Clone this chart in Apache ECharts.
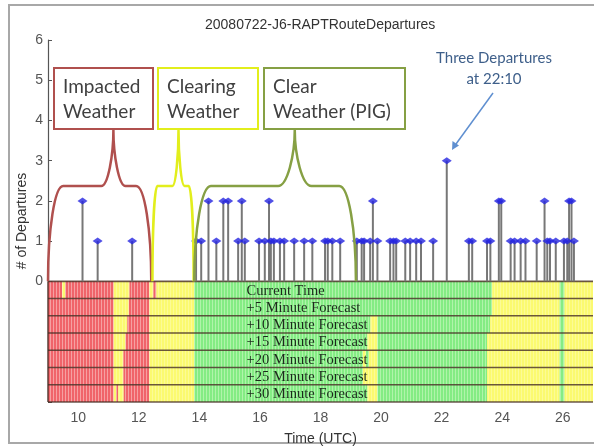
<!DOCTYPE html>
<html>
<head>
<meta charset="utf-8">
<script src="https://cdn.jsdelivr.net/npm/echarts@6/dist/echarts.min.js"></script>
<style>
html, body { margin: 0; padding: 0; background: #fff; }
#chart { width: 594px; height: 446px; }
</style>
</head>
<body>
<div id="chart"></div>
<script>
// departures, time in UTC hours
const depTimes = [10.14, 10.64, 11.78, 13.89, 14.06, 14.30, 14.56, 14.79, 14.95, 15.28,
  15.40, 15.50, 15.97, 16.16, 16.30, 16.36, 16.46, 16.66, 16.80, 17.13,
  17.46, 17.73, 18.15, 18.24, 18.39, 18.65, 19.20, 19.36, 19.44, 19.64,
  19.73, 19.88, 20.30, 20.41, 20.50, 20.80, 20.96, 21.16, 21.32, 21.72,
  22.17, 22.90, 23.01, 23.50, 23.61, 23.89, 23.97, 24.28, 24.41, 24.61,
  24.77, 25.14, 25.40, 25.49, 25.58, 25.77, 26.04, 26.15, 26.21, 26.29,
  26.37];
const depCounts = [2, 1, 1, 1, 1, 2, 1, 2, 2, 1,
  2, 1, 1, 1, 2, 1, 1, 1, 1, 1,
  1, 1, 1, 1, 1, 1, 1, 1, 1, 1,
  2, 1, 1, 1, 1, 1, 1, 1, 1, 1,
  3, 1, 1, 1, 1, 2, 2, 1, 1, 1,
  1, 1, 2, 1, 1, 1, 1, 1, 2, 2,
  1];

const yTicks = [0, 1, 2, 3, 4, 5, 6];
const xTicks = [10, 12, 14, 16, 18, 20, 22, 24, 26];

// forecast rows, top to bottom
const rowNames = ['Current Time', '+5 Minute Forecast', '+10 Minute Forecast', '+15 Minute Forecast',
  '+20 Minute Forecast', '+25 Minute Forecast', '+30 Minute Forecast'];

// weather bands per row: [start, end, state]  0 = impacted, 1 = clearing, 2 = clear
const bandsNow = [[9, 9.47, 0], [9.47, 9.57, 1], [9.57, 11.17, 0], [11.17, 11.69, 1], [11.69, 12.35, 0],
  [12.35, 12.48, 1], [12.48, 12.58, 0], [12.58, 13.83, 1], [13.83, 23.67, 2], [23.67, 25.9, 1],
  [25.9, 26.06, 2], [26.06, 27, 1]];
const bands5 = [[9, 11.17, 0], [11.17, 11.67, 1], [11.67, 12.35, 0], [12.35, 13.83, 1], [13.83, 23.67, 2],
  [23.67, 25.9, 1], [25.9, 26.06, 2], [26.06, 27, 1]];
const bands10 = [[9, 11.17, 0], [11.17, 11.62, 1], [11.62, 12.35, 0], [12.35, 13.83, 1], [13.83, 19.65, 2],
  [19.65, 19.88, 1], [19.88, 23.6, 2], [23.6, 25.9, 1], [25.9, 26.06, 2], [26.06, 27, 1]];
const bands15 = [[9, 11.17, 0], [11.17, 11.56, 1], [11.56, 12.35, 0], [12.35, 13.83, 1], [13.83, 19.55, 2],
  [19.55, 19.88, 1], [19.88, 23.5, 2], [23.5, 25.9, 1], [25.9, 26.06, 2], [26.06, 27, 1]];
const bands20 = [[9, 11.17, 0], [11.17, 11.49, 1], [11.49, 12.35, 0], [12.35, 13.83, 1], [13.83, 19.4, 2],
  [19.4, 19.5, 1], [19.5, 19.6, 2], [19.6, 19.88, 1], [19.88, 23.5, 2], [23.5, 25.9, 1],
  [25.9, 26.06, 2], [26.06, 27, 1]];
const bands25 = [[9, 11.17, 0], [11.17, 11.49, 1], [11.49, 12.35, 0], [12.35, 13.83, 1], [13.83, 19.4, 2],
  [19.4, 19.88, 1], [19.88, 23.5, 2], [23.5, 25.9, 1], [25.9, 26.06, 2], [26.06, 27, 1]];
const bands30 = [[9, 11.17, 0], [11.17, 11.25, 1], [11.25, 11.32, 0], [11.32, 11.5, 1], [11.5, 12.35, 0],
  [12.35, 13.83, 1], [13.83, 19.55, 2], [19.55, 19.88, 1], [19.88, 23.5, 2], [23.5, 25.9, 1],
  [25.9, 26.06, 2], [26.06, 27, 1]];
const rowBands = [bandsNow, bands5, bands10, bands15, bands20, bands25, bands30];

// braces over the weather periods: [start, end, peak]
const braceSpans = [[9.0, 12.41, 11.16], [12.45, 13.81, 13.31], [13.83, 19.17, 17.15]];
const braceLabels = [['Impacted', 'Weather'], ['Clearing', 'Weather'], ['Clear', 'Weather (PIG)']];

const ROW_H = 3 / 7;
const BRACE_H = 2.37, BRACE_TOP = 3.76;
const braceStyle = [
  { color: '#b0504e', corner: 0.5, peak: 0.4 },
  { color: '#e2ee1c', corner: 0.16, peak: 0.2 },
  { color: '#86a044', corner: 0.55, peak: 0.55 }
];
const boxes = [
  { x: 54, w: 99 },
  { x: 158, w: 100 },
  { x: 264, w: 141 }
];

// striped fills like the original cells
function stripes(base, light) {
  const c = document.createElement('canvas');
  c.width = 3; c.height = 1;
  const ctx = c.getContext('2d');
  ctx.fillStyle = base; ctx.fillRect(0, 0, 3, 1);
  ctx.fillStyle = light; ctx.fillRect(2, 0, 1, 1);
  return { image: c, repeat: 'repeat' };
}
const stateFill = [
  stripes('#f0646a', '#f6a0a2'),
  stripes('#fbfa70', '#fcfb96'),
  stripes('#84ec84', '#b0f4aa')
];

const bandData = [];
rowBands.forEach((bands, r) => {
  bands.forEach(b => bandData.push([b[0], b[1], r, b[2]]));
});

const chart = echarts.init(document.getElementById('chart'));

const graphics = [
  { type: 'rect', shape: { x: 9, y: 5, width: 600, height: 438 }, style: { fill: 'none', stroke: '#a8a8a8', lineWidth: 2 }, silent: true }
];
braceLabels.forEach((lines, i) => {
  graphics.push({
    type: 'rect', shape: { x: boxes[i].x, y: 68, width: boxes[i].w, height: 61 },
    style: { fill: '#fff', stroke: braceStyle[i].color, lineWidth: 2 }
  });
  lines.forEach((t, k) => {
    graphics.push({
      type: 'text', x: boxes[i].x + 9, y: 87 + k * 25,
      style: { text: t, font: '19px Lato', fill: '#404040', verticalAlign: 'middle' }
    });
  });
});
graphics.push(
  { type: 'text', x: 494, y: 58, style: { text: 'Three Departures', font: '15px Lato', fill: '#3e5f8a', align: 'center', verticalAlign: 'middle' } },
  { type: 'text', x: 494, y: 79, style: { text: 'at 22:10', font: '15px Lato', fill: '#3e5f8a', align: 'center', verticalAlign: 'middle' } },
  { type: 'line', shape: { x1: 493, y1: 93, x2: 456, y2: 144 }, style: { stroke: '#5f8fd0', lineWidth: 1.5 } },
  { type: 'polygon', shape: { points: [[452, 150], [452.5, 141], [459, 145.5]] }, style: { fill: '#5f8fd0' } }
);

chart.setOption({
  animation: false,
  title: {
    text: '20080722-J6-RAPTRouteDepartures',
    left: 200, top: 13,
    textStyle: { fontSize: 14, fontWeight: 'normal', color: '#333', fontFamily: 'Liberation Sans' }
  },
  grid: { left: 48, right: 1, top: 40, bottom: 44, outerBoundsMode: 'none' },
  xAxis: {
    type: 'value', min: 9, max: 27, interval: 1,
    name: 'Time (UTC)', nameLocation: 'middle', nameGap: 30,
    nameTextStyle: { fontSize: 14, color: '#333', fontFamily: 'Liberation Sans' },
    axisLine: { show: false },
    axisTick: { show: false },
    splitLine: { show: false },
    axisLabel: {
      fontSize: 14, color: '#555', fontFamily: 'Liberation Sans', margin: 9,
      formatter: v => xTicks.indexOf(v) >= 0 ? String(v) : ''
    }
  },
  yAxis: {
    type: 'value', min: -3, max: 6, interval: 1,
    name: '# of Departures', nameLocation: 'middle', nameGap: 19, nameMoveOverlap: false,
    nameTextStyle: { fontSize: 14, color: '#333', fontFamily: 'Liberation Sans' },
    axisLine: { show: true, lineStyle: { color: '#555', width: 1.2 } },
    axisTick: { show: true, inside: true, length: 4, lineStyle: { color: '#555' } },
    splitLine: { show: false },
    axisLabel: {
      fontSize: 14, color: '#555', fontFamily: 'Liberation Sans', margin: 5,
      formatter: v => yTicks.indexOf(v) >= 0 ? String(v) : ''
    }
  },
  graphic: graphics,
  series: [
    {
      // weather state cells
      type: 'custom', z: 3,
      data: bandData,
      renderItem: (params, api) => {
        const r = api.value(2);
        const p0 = api.coord([api.value(0), -r * ROW_H]);
        const p1 = api.coord([api.value(1), -(r + 1) * ROW_H]);
        return {
          type: 'rect',
          shape: { x: p0[0], y: p0[1], width: p1[0] - p0[0], height: p1[1] - p0[1] },
          style: { fill: stateFill[api.value(3)] }
        };
      }
    },
    {
      // row borders
      type: 'custom', z: 4,
      data: [0, 1, 2, 3, 4, 5, 6, 7].map(i => [9, -i * ROW_H]),
      renderItem: (params, api) => {
        const y = api.value(1);
        const a = api.coord([9, y]);
        const b = api.coord([27, y]);
        const children = [{ type: 'line', shape: { x1: a[0], y1: a[1], x2: b[0], y2: b[1] }, style: { stroke: 'rgba(70,45,35,0.8)', lineWidth: 1.6 } }];
        if (params.dataIndex === 0) {
          const c = api.coord([9, -3]);
          children.push({ type: 'line', shape: { x1: a[0], y1: a[1], x2: c[0], y2: c[1] }, style: { stroke: 'rgba(70,45,35,0.8)', lineWidth: 1.6 } });
        }
        return { type: 'group', children };
      }
    },
    {
      // row names
      type: 'custom', z: 5,
      data: rowNames.map((n, i) => [15.56, -(i + 0.5) * ROW_H]),
      renderItem: (params, api) => {
        const p = api.coord([api.value(0), api.value(1)]);
        return {
          type: 'text', x: p[0], y: p[1] + 1,
          style: { text: rowNames[params.dataIndex], font: '14.5px "Liberation Serif"', fill: '#1c2a1c', verticalAlign: 'middle' }
        };
      }
    },
    {
      // stems
      type: 'custom', z: 6,
      data: depTimes.map((t, i) => [t, depCounts[i]]),
      renderItem: (params, api) => {
        const a = api.coord([api.value(0), 0]);
        const b = api.coord([api.value(0), api.value(1)]);
        return { type: 'line', shape: { x1: a[0], y1: a[1], x2: b[0], y2: b[1] }, style: { stroke: '#777', lineWidth: 2 } };
      }
    },
    {
      type: 'scatter', z: 7,
      data: depTimes.map((t, i) => [t, depCounts[i]]),
      symbol: 'diamond', symbolSize: [10, 7],
      itemStyle: { color: '#2424e0' }
    },
    {
      // braces
      type: 'custom', z: 8,
      data: braceSpans,
      renderItem: (params, api) => {
        const s = braceStyle[params.dataIndex];
        const x0 = api.value(0), x1 = api.value(1), xp = api.value(2);
        const c = s.corner, p = s.peak, h = BRACE_H, top = BRACE_TOP;
        const P = (x, y) => { const q = api.coord([x, y]); return q[0].toFixed(2) + ' ' + q[1].toFixed(2); };
        const mid = h + 0.55 * (top - h);
        const d = 'M' + P(x0, 0) +
          ' C' + P(x0, 0.552 * h) + ' ' + P(x0 + 0.448 * c, h) + ' ' + P(x0 + c, h) +
          ' L' + P(xp - p, h) +
          ' C' + P(xp - 0.45 * p, h) + ' ' + P(xp, mid) + ' ' + P(xp, top) +
          ' C' + P(xp, mid) + ' ' + P(xp + 0.45 * p, h) + ' ' + P(xp + p, h) +
          ' L' + P(x1 - c, h) +
          ' C' + P(x1 - 0.448 * c, h) + ' ' + P(x1, 0.552 * h) + ' ' + P(x1, 0);
        return { type: 'path', shape: { pathData: d }, style: { fill: 'none', stroke: s.color, lineWidth: 2.5 } };
      }
    }
  ]
});
</script>
</body>
</html>
